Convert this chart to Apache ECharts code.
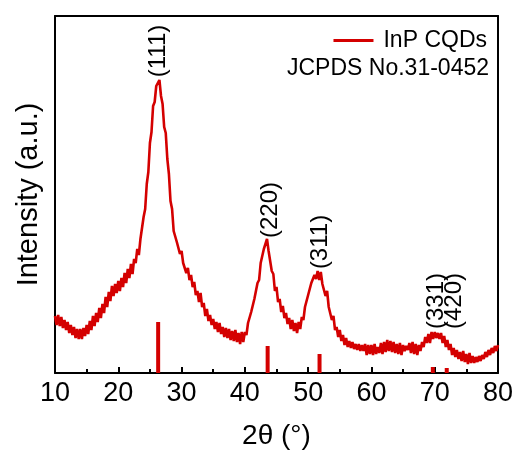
<!DOCTYPE html>
<html>
<head>
<meta charset="utf-8">
<script src="https://cdn.jsdelivr.net/npm/echarts@6/dist/echarts.min.js"></script>
<style>html,body{margin:0;padding:0;background:#fff}#c{width:519px;height:459px}</style>
</head>
<body>
<div id="c"></div>
<script>
// XRD pattern of InP CQDs (arbitrary intensity units), sampled every 0.25 deg from 10 deg
const twoThetaStart = 10;
const twoThetaStep = 0.25;
const intensity = [
  57,48,58,47, 56,45,53,43, 51,40,48,38, 46,35,44,34, 44,34,45,37,
  48,39,52,43, 57,47,60,51, 65,55,69,60, 76,66,81,72, 87,77,89,80,
  92,82,95,86, 100,90,104,95, 109,99,114,110, 124,118,134,134, 156,164,189,201,
  230,241,267,271, 287,286,293,277, 269,246,240,214, 199,172,164,142, 144,131,132,119,
  122,110,112,100, 105,93,98,86, 91,78,82,71, 80,66,70,57, 64,52,58,48,
  54,44,51,41, 50,39,46,36, 45,35,44,33, 42,32,43,31, 40,29,41,31,
  41,38,50,49, 61,60,74,74, 90,93,110,112, 124,124,134,122, 121,102,99,82,
  86,71,74,61, 67,55,60,49, 55,44,53,42, 50,40,51,44, 56,53,66,65,
  78,77,90,88, 98,94,102,93, 101,89,91,77, 82,66,66,53, 57,43,46,36,
  43,32,38,28, 35,26,32,25, 31,24,29,23, 29,22,28,22, 29,18,28,19,
  28,18,29,19, 26,20,30,19, 31,21,33,22, 32,21,31,20, 29,19,30,18,
  28,22,27,23, 30,20,31,19, 29,18,28,22, 31,26,36,30, 39,30,41,34,
  41,35,40,34, 40,30,37,26, 33,23,29,18, 25,16,23,14, 21,12,22,11,
  19,9,20,10, 17,10,16,11, 17,12,18,14, 21,16,23,18, 25,20,27,22,
  28
];
// JCPDS No.31-0452 reference lines
const refPositions = [26.3, 43.6, 51.8, 69.7, 71.9];
const refHeights = [51, 27, 19, 6, 5];
// peak (hkl) labels: x position and label-centre height
const peakNames = ['(111)', '(220)', '(311)', '(331)', '(420)'];
const peakX = [26.27, 43.96, 51.86, 70.19, 73.03];
const peakY = [322, 163, 131, 72, 72];
const xTicks = [10, 20, 30, 40, 50, 60, 70, 80];

const lineData = intensity.map((v, i) => [twoThetaStart + i * twoThetaStep, v]);
const barData = refPositions.map((x, i) => [x, refHeights[i]]);
const labelData = peakNames.map((n, i) => [peakX[i], peakY[i], n]);

const RED = '#d40000';
const FONT = 'Liberation Sans, Arial, sans-serif';
const chart = echarts.init(document.getElementById('c'), null, {renderer: 'canvas'});
chart.setOption({
  animation: false,
  backgroundColor: '#fff',
  grid: {left: 55, right: 21, top: 16, bottom: 86, containLabel: false},
  title: {
    text: 'JCPDS No.31-0452', right: 25, top: 52,
    textStyle: {fontFamily: FONT, fontSize: 23, fontWeight: 'normal', color: '#000'}
  },
  legend: {
    data: [{name: 'InP CQDs', icon: 'rect'}],
    right: 27, top: 24, itemWidth: 40, itemHeight: 3,
    textStyle: {fontFamily: FONT, fontSize: 23, color: '#000', padding: [0, 0, 0, 5]}
  },
  xAxis: [{
    type: 'value', min: xTicks[0], max: xTicks[xTicks.length - 1], interval: 10,
    name: '2θ (°)', nameLocation: 'middle', nameGap: 49,
    nameTextStyle: {fontFamily: FONT, fontSize: 28, color: '#000'},
    axisLine: {onZero: false, lineStyle: {color: '#000', width: 2}},
    axisTick: {inside: true, length: 6, lineStyle: {color: '#000', width: 2}},
    minorTick: {show: true, splitNumber: 2, length: 4, lineStyle: {color: '#000', width: 2}},
    axisLabel: {fontFamily: FONT, fontSize: 27, color: '#000', margin: 7},
    splitLine: {show: false}
  }, {
    type: 'value', position: 'top', min: 10, max: 80,
    axisLine: {onZero: false, lineStyle: {color: '#000', width: 2}},
    axisTick: {show: false}, axisLabel: {show: false}, splitLine: {show: false}
  }],
  yAxis: [{
    type: 'value', min: 0, max: 357,
    name: 'Intensity (a.u.)', nameLocation: 'middle', nameGap: 12,
    nameTextStyle: {fontFamily: FONT, fontSize: 29, color: '#000'},
    axisLine: {show: true, onZero: false, lineStyle: {color: '#000', width: 2}},
    axisTick: {show: false}, axisLabel: {show: false}, splitLine: {show: false}
  }, {
    type: 'value', position: 'right', min: 0, max: 357,
    axisLine: {show: true, onZero: false, lineStyle: {color: '#000', width: 2}},
    axisTick: {show: false}, axisLabel: {show: false}, splitLine: {show: false}
  }],
  series: [{
    name: 'InP CQDs', type: 'line', data: lineData, showSymbol: false, symbol: 'none',
    smooth: false, sampling: null,
    lineStyle: {color: RED, width: 2.6}, itemStyle: {color: RED}, z: 3
  }, {
    name: 'JCPDS No.31-0452', type: 'bar', data: barData, barWidth: 4,
    itemStyle: {color: RED}, z: 2
  }, {
    name: 'labels', type: 'scatter', data: labelData, symbolSize: 0,
    itemStyle: {opacity: 1},
    label: {
      show: true, position: 'inside', rotate: 90,
      formatter: p => p.data[2],
      fontFamily: FONT, fontSize: 24, color: '#000', textBorderWidth: 0, opacity: 1
    },
    z: 4
  }]
});
</script>
</body>
</html>
